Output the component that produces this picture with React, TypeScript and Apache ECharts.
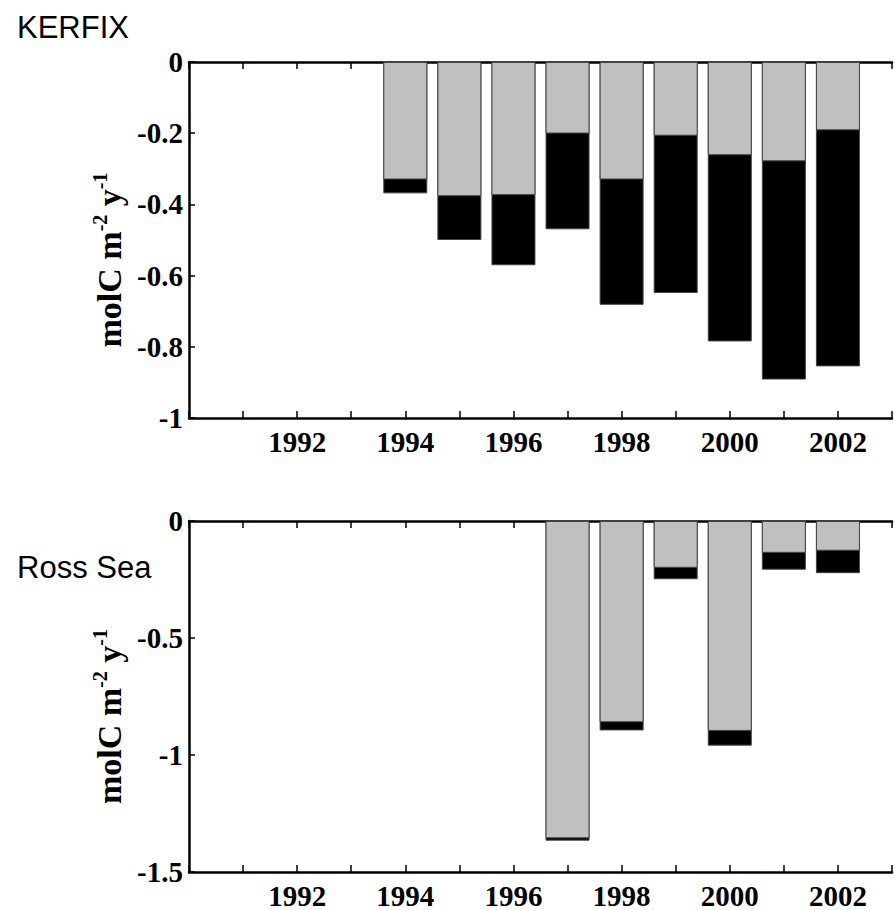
import React, { useEffect, useRef } from "react";
import * as echarts from "echarts";

// KERFIX panel: grey part ends at kerfixGray, black part ends at kerfixTotal
const kerfixYears = [1994, 1995, 1996, 1997, 1998, 1999, 2000, 2001, 2002];
const kerfixGray = [-0.33, -0.377, -0.374, -0.201, -0.33, -0.207, -0.262, -0.279, -0.192];
const kerfixTotal = [-0.369, -0.5, -0.571, -0.47, -0.682, -0.649, -0.785, -0.892, -0.855];

// Ross Sea panel
const rossYears = [1997, 1998, 1999, 2000, 2001, 2002];
const rossGray = [-1.356, -0.86, -0.2, -0.897, -0.136, -0.127];
const rossTotal = [-1.366, -0.895, -0.249, -0.96, -0.208, -0.223];

const panelTitles = ["KERFIX", "Ross Sea"];
const yTicksTop = { min: -1, max: 0, interval: 0.2 };
const yTicksBottom = { min: -1.5, max: 0, interval: 0.5 };

const SERIF = "'Liberation Serif', 'Times New Roman', serif";
const SANS = "'Liberation Sans', Arial, sans-serif";

export default function App() {
  const ref = useRef<HTMLDivElement>(null);
  useEffect(() => {
    if (!ref.current) return;
    const chart = echarts.init(ref.current, null, { renderer: "svg" });

    const grids = [
      { left: 189, top: 62, width: 715, height: 356 },
      { left: 189, top: 521, width: 715, height: 355 },
    ];

    const xBottom = (gi: number) => ({
      type: "value",
      gridIndex: gi,
      min: 1990,
      max: 2003,
      interval: 1,
      position: "bottom",
      axisLine: { show: true, onZero: false, lineStyle: { color: "#000", width: 2.5 } },
      axisTick: { show: true, inside: true, length: 7, lineStyle: { color: "#000", width: 1.5 } },
      splitLine: { show: false },
      axisLabel: {
        margin: 9,
        fontFamily: SERIF,
        fontWeight: "bold",
        fontSize: 29,
        color: "#000",
        formatter: (v: number) => (v % 2 === 0 && v > 1990 && v < 2003 ? String(v) : ""),
      },
    });
    const xTop = (gi: number) => ({
      type: "value",
      gridIndex: gi,
      min: 1990,
      max: 2003,
      interval: 1,
      position: "top",
      axisLine: { show: true, onZero: false, lineStyle: { color: "#000", width: 2.5 } },
      axisTick: { show: true, inside: true, length: 7, lineStyle: { color: "#000", width: 1.5 } },
      splitLine: { show: false },
      axisLabel: { show: false },
    });

    const yName = "{b|molC m}{s|-2}{b| y}{s|-1}";
    const yAxis = (gi: number, t: { min: number; max: number; interval: number }) => ({
      type: "value",
      gridIndex: gi,
      min: t.min,
      max: t.max,
      interval: t.interval,
      name: yName,
      nameLocation: "middle",
      nameRotate: 90,
      nameGap: 58,
      nameTextStyle: {
        padding: [0, 40, 0, 0],
        rich: {
          b: { fontFamily: SERIF, fontWeight: "bold", fontSize: 34, color: "#000", lineHeight: 38 },
          s: { fontFamily: SERIF, fontWeight: "bold", fontSize: 20, color: "#000", verticalAlign: "top", lineHeight: 38 },
        },
      },
      axisLine: { show: true, onZero: false, lineStyle: { color: "#000", width: 2.5 } },
      axisTick: { show: true, inside: true, length: 6, lineStyle: { color: "#000", width: 1.5 } },
      splitLine: { show: false },
      axisLabel: {
        margin: 6,
        fontFamily: SERIF,
        fontWeight: "bold",
        fontSize: 29,
        color: "#000",
      },
    });

    const barStyle = (color: string) => ({ color, borderColor: "#444", borderWidth: 1 });

    const makeSeries = (xi: number, yi: number, years: number[], gray: number[], total: number[]) => [
      {
        type: "bar",
        xAxisIndex: xi,
        yAxisIndex: yi,
        barWidth: 44,
        barGap: "-100%",
        itemStyle: barStyle("#000"),
        data: years.map((y, i) => [y, total[i]]),
      },
      {
        type: "bar",
        xAxisIndex: xi,
        yAxisIndex: yi,
        barWidth: 44,
        barGap: "-100%",
        itemStyle: barStyle("#c0c0c0"),
        data: years.map((y, i) => [y, gray[i]]),
      },
    ];

    chart.setOption({
      animation: false,
      backgroundColor: "#fff",
      title: [
        {
          text: panelTitles[0],
          left: 17,
          top: 12,
          padding: 0,
          textStyle: { fontFamily: SANS, fontSize: 31, fontWeight: "normal", color: "#000" },
        },
        {
          text: panelTitles[1],
          left: 17,
          top: 552,
          padding: 0,
          textStyle: { fontFamily: SANS, fontSize: 31, fontWeight: "normal", color: "#000" },
        },
      ],
      grid: grids,
      xAxis: [xBottom(0), xBottom(1), xTop(0), xTop(1)],
      yAxis: [yAxis(0, yTicksTop), yAxis(1, yTicksBottom)],
      series: [
        ...makeSeries(0, 0, kerfixYears, kerfixGray, kerfixTotal),
        ...makeSeries(1, 1, rossYears, rossGray, rossTotal),
      ],
    });
    return () => chart.dispose();
  }, []);
  return (
    <div
      ref={ref}
      style={{ position: "absolute", left: 0, top: 0, width: 895, height: 910, background: "#fff" }}
    />
  );
}
